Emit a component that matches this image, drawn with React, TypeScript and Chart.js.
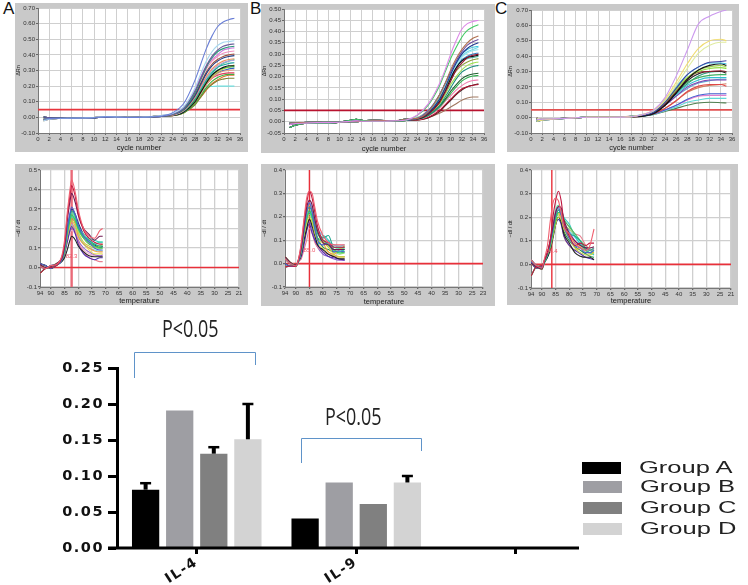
import React, { useEffect, useRef } from "react";
import { Chart, registerables } from "chart.js";

Chart.register(...registerables);

// ---------- bar chart data ----------
const categories = ["IL-4", "IL-9", ""];
const groupNames = ["Group A", "Group B", "Group C", "Group D"];
const groupColors = ["#000000", "#9e9ea3", "#808080", "#d3d3d3"];
const groupA = [0.081, 0.041, null];
const groupB = [0.191, 0.091, null];
const groupC = [0.131, 0.061, null];
const groupD = [0.151, 0.091, null];
const topA = [0.09, null, null];
const topB = [null, null, null];
const topC = [0.14, null, null];
const topD = [0.2, 0.1, null];
const barTicks = [0, 0.05, 0.1, 0.15, 0.2, 0.25];

// ---------- shared colours for curves ----------
const palette = [
  "#6a7fd6", "#a8d8f0", "#6a5a9a", "#2a9a7a", "#f090c0", "#203a80", "#f09060", "#b0a0e0",
  "#20a0a0", "#111111", "#30c050", "#e0a080", "#e04060", "#40b040", "#808030", "#70e0e0",
  "#cc77dd", "#a05040", "#40d890", "#d8c840", "#3060c0", "#e07030",
];
const meltColors = [
  "#f06070", "#c01840", "#701850", "#5060d0", "#20a890", "#40c860", "#c8d040", "#222222",
  "#5030b0", "#e88090", "#30d0c0", "#f0a040", "#90e070", "#70d0f0", "#e8e060", "#209050",
  "#9060d0", "#60e0a0", "#f0b0d0", "#103070", "#40b0e0", "#80c030",
];

// ---------- amplification curves, panel A ----------
const cyclesA = [1, 2, 4, 6, 8, 10, 12, 14, 16, 18, 20, 22, 24, 26, 28, 29, 30, 31, 32, 33, 34, 35];
const earlyA1 = [-0.012, -0.008, -0.006, -0.005, -0.004, -0.002, 0.003, 0.002, 0, 0, 0.003, 0.008];
const earlyA2 = [-0.022, -0.012, -0.007, -0.006, -0.004, -0.001, 0.006, 0.003, 0.001, 0.001, 0.004, 0.012];
const earlyA3 = [0.002, -0.002, -0.005, -0.006, -0.005, -0.003, 0.001, 0.001, -0.001, 0, 0.002, 0.006];
const lateA = [
  [0.03, 0.09, 0.24, 0.34, 0.44, 0.52, 0.58, 0.61, 0.625, 0.635],
  [0.025, 0.07, 0.19, 0.28, 0.36, 0.42, 0.46, 0.48, 0.485, 0.49],
  [0.02, 0.06, 0.17, 0.25, 0.33, 0.39, 0.43, 0.455, 0.465, 0.47],
  [0.02, 0.055, 0.16, 0.24, 0.32, 0.38, 0.42, 0.44, 0.45, 0.455],
  [0.02, 0.06, 0.17, 0.24, 0.31, 0.36, 0.39, 0.41, 0.42, 0.425],
  [0.018, 0.05, 0.14, 0.21, 0.28, 0.33, 0.36, 0.38, 0.39, 0.395],
  [0.015, 0.045, 0.13, 0.2, 0.26, 0.31, 0.34, 0.36, 0.37, 0.375],
  [0.015, 0.045, 0.13, 0.19, 0.25, 0.3, 0.33, 0.35, 0.36, 0.365],
  [0.015, 0.04, 0.12, 0.18, 0.24, 0.28, 0.32, 0.335, 0.345, 0.35],
  [0.012, 0.035, 0.1, 0.16, 0.22, 0.27, 0.3, 0.32, 0.33, 0.33],
  [0.015, 0.04, 0.11, 0.17, 0.23, 0.27, 0.3, 0.315, 0.322, 0.325],
  [0.012, 0.035, 0.1, 0.15, 0.21, 0.25, 0.28, 0.295, 0.3, 0.305],
  [0.015, 0.04, 0.11, 0.16, 0.21, 0.25, 0.27, 0.28, 0.285, 0.285],
  [0.012, 0.03, 0.09, 0.14, 0.19, 0.23, 0.255, 0.27, 0.275, 0.275],
  [0.01, 0.03, 0.08, 0.13, 0.18, 0.21, 0.235, 0.245, 0.25, 0.25],
  [0.012, 0.035, 0.1, 0.15, 0.19, 0.198, 0.2, 0.2, 0.2, 0.2],
  [0.022, 0.065, 0.18, 0.26, 0.33, 0.37, 0.4, 0.43, 0.44, 0.445],
  [0.016, 0.05, 0.15, 0.22, 0.29, 0.34, 0.37, 0.39, 0.4, 0.405],
  [0.014, 0.045, 0.13, 0.19, 0.25, 0.29, 0.32, 0.345, 0.36, 0.37],
  [0.012, 0.04, 0.12, 0.17, 0.22, 0.26, 0.29, 0.31, 0.32, 0.335],
  [0.012, 0.035, 0.11, 0.16, 0.22, 0.26, 0.285, 0.3, 0.31, 0.315],
  [0.01, 0.03, 0.09, 0.13, 0.175, 0.215, 0.24, 0.26, 0.27, 0.27],
];

// ---------- amplification curves, panel B ----------
const cyclesB = [1, 2, 4, 6, 8, 10, 12, 13, 14, 16, 18, 20, 22, 24, 26, 28, 29, 30, 31, 32, 33, 34, 35];
const earlyB1 = [-0.012, -0.008, -0.006, -0.004, -0.004, -0.002, 0.002, 0.004, 0.002, 0.002, 0.002, 0.004, 0.008];
const earlyB2 = [-0.026, -0.016, -0.007, -0.006, -0.006, -0.002, 0.006, 0.011, 0.006, 0.001, 0.001, 0.003, 0.006];
const earlyB3 = [-0.006, -0.005, -0.002, -0.001, -0.003, -0.002, 0, 0, 0.003, 0.007, 0.005, 0.003, 0.012];
const lateB = [
  [0.03, 0.08, 0.17, 0.23, 0.3, 0.36, 0.41, 0.435, 0.445, 0.45],
  [0.028, 0.075, 0.16, 0.22, 0.28, 0.33, 0.375, 0.405, 0.42, 0.43],
  [0.015, 0.045, 0.12, 0.17, 0.23, 0.28, 0.32, 0.35, 0.37, 0.38],
  [0.015, 0.05, 0.12, 0.17, 0.22, 0.27, 0.31, 0.34, 0.355, 0.365],
  [0.014, 0.04, 0.1, 0.15, 0.21, 0.26, 0.3, 0.325, 0.34, 0.35],
  [0.016, 0.05, 0.12, 0.17, 0.22, 0.265, 0.3, 0.32, 0.33, 0.335],
  [0.016, 0.05, 0.115, 0.16, 0.21, 0.25, 0.285, 0.305, 0.315, 0.32],
  [0.012, 0.035, 0.085, 0.13, 0.18, 0.23, 0.26, 0.285, 0.295, 0.3],
  [0.013, 0.035, 0.09, 0.135, 0.19, 0.24, 0.27, 0.285, 0.29, 0.295],
  [0.018, 0.05, 0.11, 0.15, 0.19, 0.225, 0.25, 0.265, 0.275, 0.28],
  [0.014, 0.035, 0.08, 0.12, 0.165, 0.2, 0.23, 0.25, 0.26, 0.265],
  [0.012, 0.03, 0.07, 0.11, 0.15, 0.19, 0.22, 0.235, 0.245, 0.25],
  [0.012, 0.03, 0.07, 0.1, 0.135, 0.165, 0.19, 0.205, 0.212, 0.215],
  [0.012, 0.028, 0.065, 0.095, 0.125, 0.155, 0.18, 0.195, 0.203, 0.205],
  [0.01, 0.025, 0.06, 0.09, 0.115, 0.14, 0.16, 0.175, 0.183, 0.185],
  [0.008, 0.02, 0.05, 0.075, 0.1, 0.125, 0.145, 0.155, 0.162, 0.165],
  [0.008, 0.018, 0.045, 0.07, 0.095, 0.12, 0.14, 0.155, 0.162, 0.168],
  [0.008, 0.018, 0.038, 0.05, 0.065, 0.08, 0.095, 0.105, 0.11, 0.11],
  [0.015, 0.045, 0.11, 0.16, 0.21, 0.255, 0.29, 0.31, 0.32, 0.33],
  [0.014, 0.04, 0.1, 0.15, 0.2, 0.24, 0.275, 0.29, 0.3, 0.305],
  [0.013, 0.04, 0.1, 0.15, 0.2, 0.24, 0.27, 0.28, 0.285, 0.29],
];
const colorsB = [
  "#dd88e8", "#44cc66", "#b07050", "#7050a0", "#203a90", "#40c8e0", "#a0e8f0", "#901030", "#111111",
  "#90a040", "#a0e050", "#209080", "#206030", "#30b050", "#f080b0", "#b01030", "#402020", "#a07860",
  "#70d8e8", "#3080c0", "#50b8a0",
];

// ---------- amplification curves, panel C ----------
const cyclesC = [1, 2, 4, 6, 8, 10, 12, 14, 16, 18, 20, 22, 24, 26, 28, 30, 32, 34, 35];
const earlyC1 = [-0.012, -0.01, -0.008, -0.005, -0.001, 0.002, 0.002, 0.002, 0.003, 0.006];
const earlyC2 = [-0.024, -0.016, -0.01, -0.006, -0.001, 0.003, 0.003, 0.003, 0.004, 0.008];
const earlyC3 = [-0.004, -0.008, -0.007, -0.004, 0, 0.001, 0.002, 0.002, 0.002, 0.005];
const lateC = [
  [0.02, 0.05, 0.13, 0.27, 0.44, 0.61, 0.66, 0.69, 0.7],
  [0.02, 0.05, 0.12, 0.23, 0.35, 0.45, 0.5, 0.51, 0.5],
  [0.02, 0.045, 0.11, 0.21, 0.32, 0.42, 0.47, 0.49, 0.49],
  [0.015, 0.035, 0.1, 0.19, 0.28, 0.33, 0.36, 0.365, 0.37],
  [0.02, 0.04, 0.11, 0.2, 0.28, 0.33, 0.355, 0.355, 0.35],
  [0.01, 0.03, 0.08, 0.16, 0.25, 0.31, 0.34, 0.35, 0.34],
  [0.015, 0.04, 0.1, 0.18, 0.26, 0.3, 0.32, 0.325, 0.32],
  [0.015, 0.035, 0.09, 0.17, 0.25, 0.295, 0.3, 0.305, 0.3],
  [0.01, 0.025, 0.08, 0.16, 0.24, 0.285, 0.3, 0.3, 0.29],
  [0.015, 0.04, 0.1, 0.17, 0.23, 0.26, 0.275, 0.28, 0.28],
  [0.01, 0.03, 0.09, 0.15, 0.21, 0.245, 0.26, 0.26, 0.26],
  [0.015, 0.03, 0.08, 0.14, 0.2, 0.23, 0.245, 0.245, 0.245],
  [0.01, 0.025, 0.06, 0.11, 0.17, 0.205, 0.215, 0.215, 0.205],
  [0.01, 0.025, 0.05, 0.08, 0.12, 0.145, 0.155, 0.155, 0.155],
  [0.01, 0.025, 0.05, 0.08, 0.115, 0.14, 0.145, 0.145, 0.145],
  [0.01, 0.02, 0.045, 0.07, 0.1, 0.115, 0.125, 0.125, 0.125],
  [0.01, 0.02, 0.04, 0.06, 0.08, 0.095, 0.1, 0.097, 0.095],
  [0.015, 0.04, 0.11, 0.19, 0.26, 0.31, 0.33, 0.34, 0.33],
  [0.012, 0.03, 0.09, 0.16, 0.22, 0.27, 0.295, 0.3, 0.3],
  [0.012, 0.035, 0.08, 0.14, 0.19, 0.225, 0.24, 0.25, 0.25],
  [0.01, 0.025, 0.06, 0.11, 0.165, 0.195, 0.21, 0.215, 0.22],
];
const colorsC = [
  "#cc99ee", "#f0dc70", "#e0eca0", "#4040a0", "#40c0e0", "#111111", "#90e040", "#902030", "#222222",
  "#40b060", "#30c0d0", "#8040b0", "#e04848", "#4060d0", "#e080d0", "#60d8d8", "#508050",
  "#a0d050", "#30a080", "#60a0d0", "#d08060",
];

// ---------- melt curves ----------
const tempsA = [94, 92, 90, 88, 86, 85, 84, 83, 82.4, 81, 80, 78, 76, 74, 72, 71];
const hotA1 = [0.005, -0.005, 0.01, 0.015];
const hotA2 = [-0.03, -0.005, 0, 0.01];
const hotA3 = [0.015, 0, 0.005, 0.02];
const hotA4 = [0.02, 0.01, -0.005, 0.012];
const meltA = [
  [0.06, 0.14, 0.28, 0.4, 0.45, 0.38, 0.3, 0.2, 0.16, 0.15, 0.19, 0.2],
  [0.05, 0.12, 0.26, 0.37, 0.42, 0.36, 0.28, 0.19, 0.15, 0.13, 0.12, 0.12],
  [0.05, 0.11, 0.24, 0.34, 0.38, 0.33, 0.27, 0.2, 0.17, 0.14, 0.16, 0.16],
  [0.04, 0.1, 0.2, 0.28, 0.31, 0.27, 0.22, 0.16, 0.13, 0.1, 0.09, 0.09],
  [0.04, 0.09, 0.18, 0.26, 0.29, 0.26, 0.21, 0.16, 0.14, 0.12, 0.11, 0.11],
  [0.04, 0.08, 0.17, 0.24, 0.27, 0.24, 0.2, 0.15, 0.13, 0.11, 0.1, 0.1],
  [0.04, 0.08, 0.16, 0.22, 0.24, 0.21, 0.18, 0.13, 0.11, 0.1, 0.11, 0.12],
  [0.03, 0.05, 0.09, 0.14, 0.16, 0.14, 0.11, 0.08, 0.06, 0.055, 0.055, 0.055],
  [0.035, 0.07, 0.13, 0.19, 0.21, 0.17, 0.12, 0.07, 0.05, 0.04, 0.05, 0.05],
  [0.04, 0.08, 0.15, 0.21, 0.23, 0.18, 0.13, 0.08, 0.05, 0.04, 0.03, 0.03],
  [0.04, 0.09, 0.18, 0.25, 0.26, 0.24, 0.2, 0.16, 0.15, 0.14, 0.13, 0.13],
  [0.04, 0.08, 0.16, 0.22, 0.25, 0.22, 0.16, 0.12, 0.1, 0.085, 0.08, 0.08],
  [0.04, 0.09, 0.17, 0.23, 0.26, 0.23, 0.19, 0.15, 0.125, 0.105, 0.095, 0.1],
  [0.035, 0.08, 0.15, 0.2, 0.22, 0.2, 0.17, 0.12, 0.1, 0.09, 0.085, 0.085],
  [0.035, 0.07, 0.14, 0.19, 0.21, 0.19, 0.16, 0.12, 0.09, 0.07, 0.07, 0.07],
  [0.04, 0.08, 0.16, 0.22, 0.25, 0.23, 0.2, 0.15, 0.12, 0.11, 0.1, 0.11],
  [0.035, 0.075, 0.14, 0.19, 0.2, 0.18, 0.14, 0.1, 0.08, 0.065, 0.06, 0.065],
  [0.04, 0.085, 0.17, 0.24, 0.28, 0.25, 0.21, 0.17, 0.14, 0.12, 0.13, 0.13],
  [0.035, 0.07, 0.13, 0.18, 0.19, 0.17, 0.13, 0.09, 0.07, 0.06, 0.06, 0.06],
  [0.04, 0.09, 0.19, 0.27, 0.3, 0.27, 0.23, 0.17, 0.14, 0.115, 0.105, 0.105],
];
const tempsB = [94, 92, 90, 89, 88, 87, 86, 85, 84, 83, 82, 80, 78, 76, 74, 72];
const hotB1 = [0.02, 0, -0.01];
const hotB2 = [-0.015, -0.01, -0.012];
const hotB3 = [0.03, 0.005, -0.005];
const hotB4 = [0, -0.012, -0.008];
const meltB = [
  [0.02, 0.09, 0.19, 0.28, 0.31, 0.3, 0.24, 0.18, 0.12, 0.09, 0.08, 0.08, 0.08],
  [0.02, 0.08, 0.18, 0.26, 0.31, 0.28, 0.22, 0.16, 0.1, 0.09, 0.07, 0.07, 0.07],
  [0.015, 0.07, 0.16, 0.24, 0.27, 0.25, 0.19, 0.14, 0.09, 0.08, 0.06, 0.06, 0.06],
  [0.01, 0.06, 0.14, 0.22, 0.26, 0.22, 0.15, 0.1, 0.08, 0.09, 0.05, 0.055, 0.05],
  [0.015, 0.07, 0.15, 0.22, 0.24, 0.22, 0.17, 0.13, 0.11, 0.12, 0.07, 0.07, 0.07],
  [0.01, 0.05, 0.13, 0.19, 0.23, 0.2, 0.15, 0.11, 0.1, 0.08, 0.06, 0.045, 0.05],
  [0.01, 0.05, 0.12, 0.18, 0.2, 0.18, 0.13, 0.1, 0.09, 0.07, 0.04, 0.03, 0.03],
  [0.01, 0.04, 0.1, 0.15, 0.19, 0.16, 0.12, 0.08, 0.06, 0.04, 0.03, 0.02, 0.02],
  [0.01, 0.03, 0.08, 0.14, 0.17, 0.13, 0.1, 0.08, 0.05, 0.03, 0.025, 0.02, 0.015],
  [0.01, 0.02, 0.06, 0.1, 0.15, 0.13, 0.09, 0.07, 0.05, 0.04, 0.03, 0.03, 0.03],
  [0.015, 0.06, 0.14, 0.2, 0.22, 0.19, 0.13, 0.08, 0.12, 0.1, 0.06, 0.05, 0.06],
  [0.01, 0.05, 0.13, 0.21, 0.25, 0.23, 0.18, 0.14, 0.09, 0.05, 0.04, 0.06, 0.075],
  [0.012, 0.06, 0.14, 0.2, 0.21, 0.2, 0.16, 0.13, 0.1, 0.07, 0.055, 0.04, 0.045],
  [0.015, 0.07, 0.15, 0.23, 0.26, 0.24, 0.2, 0.15, 0.12, 0.095, 0.08, 0.075, 0.08],
  [0.01, 0.05, 0.12, 0.17, 0.19, 0.17, 0.12, 0.09, 0.065, 0.05, 0.035, 0.025, 0.025],
  [0.012, 0.06, 0.13, 0.19, 0.22, 0.2, 0.15, 0.11, 0.07, 0.06, 0.05, 0.05, 0.06],
  [0.01, 0.045, 0.11, 0.16, 0.18, 0.15, 0.1, 0.07, 0.04, 0.03, 0.02, 0.015, 0.015],
  [0.015, 0.065, 0.15, 0.22, 0.25, 0.22, 0.17, 0.13, 0.1, 0.085, 0.07, 0.065, 0.065],
];
const tempsC = [94, 92, 90, 89, 88, 87, 86, 85, 84, 83, 82, 80, 78, 76, 74, 72.5, 71];
const hotC1 = [0.02, -0.005, -0.015];
const hotC2 = [-0.05, -0.01, -0.005];
const hotC3 = [0.005, -0.01, -0.02];
const hotC4 = [0.01, -0.015, -0.01];
const meltC = [
  [0.03, 0.08, 0.18, 0.26, 0.28, 0.27, 0.22, 0.16, 0.13, 0.09, 0.07, 0.06, 0.08, 0.15, 0.145],
  [0.02, 0.05, 0.1, 0.2, 0.27, 0.31, 0.27, 0.18, 0.12, 0.08, 0.09, 0.08, 0.09, 0.09, 0.09],
  [0.02, 0.05, 0.1, 0.16, 0.22, 0.245, 0.24, 0.19, 0.13, 0.1, 0.08, 0.07, 0.07, 0.075, 0.08],
  [0.02, 0.05, 0.09, 0.15, 0.22, 0.24, 0.21, 0.16, 0.11, 0.08, 0.07, 0.05, 0.05, 0.06, 0.06],
  [0.015, 0.04, 0.08, 0.15, 0.2, 0.23, 0.21, 0.17, 0.13, 0.12, 0.1, 0.07, 0.06, 0.07, 0.07],
  [0.01, 0.04, 0.08, 0.13, 0.19, 0.22, 0.22, 0.19, 0.16, 0.13, 0.1, 0.06, 0.05, 0.06, 0.05],
  [0.015, 0.04, 0.07, 0.12, 0.17, 0.2, 0.19, 0.15, 0.11, 0.07, 0.05, 0.04, 0.04, 0.05, 0.05],
  [0.01, 0.03, 0.06, 0.11, 0.17, 0.2, 0.18, 0.13, 0.09, 0.05, 0.035, 0.03, 0.03, 0.02, 0.025],
  [0.01, 0.03, 0.07, 0.12, 0.17, 0.19, 0.17, 0.12, 0.08, 0.06, 0.045, 0.03, 0.025, 0.02, 0.02],
  [0.015, 0.05, 0.09, 0.15, 0.21, 0.23, 0.22, 0.19, 0.16, 0.13, 0.12, 0.08, 0.06, 0.07, 0.07],
  [0.01, 0.04, 0.08, 0.14, 0.2, 0.235, 0.23, 0.2, 0.17, 0.12, 0.085, 0.06, 0.05, 0.04, 0.04],
  [0.02, 0.05, 0.1, 0.16, 0.21, 0.22, 0.18, 0.12, 0.08, 0.06, 0.07, 0.06, 0.05, 0.05, 0.06],
  [0.015, 0.04, 0.08, 0.14, 0.19, 0.21, 0.2, 0.17, 0.15, 0.12, 0.1, 0.08, 0.065, 0.06, 0.06],
  [0.012, 0.035, 0.07, 0.12, 0.17, 0.19, 0.18, 0.16, 0.14, 0.115, 0.09, 0.06, 0.05, 0.045, 0.045],
  [0.015, 0.04, 0.08, 0.14, 0.2, 0.215, 0.2, 0.16, 0.12, 0.09, 0.075, 0.055, 0.045, 0.05, 0.055],
  [0.012, 0.035, 0.075, 0.13, 0.18, 0.2, 0.18, 0.14, 0.1, 0.075, 0.06, 0.045, 0.035, 0.03, 0.03],
  [0.015, 0.045, 0.09, 0.15, 0.2, 0.22, 0.21, 0.18, 0.14, 0.1, 0.085, 0.065, 0.06, 0.065, 0.07],
  [0.02, 0.05, 0.1, 0.17, 0.23, 0.25, 0.23, 0.17, 0.12, 0.09, 0.08, 0.07, 0.06, 0.055, 0.055],
];

// ---------- axis ticks ----------
const ampTicksWide = [-0.1, 0, 0.1, 0.2, 0.3, 0.4, 0.5, 0.6, 0.7];
const ampTicksB = [-0.05, 0, 0.05, 0.1, 0.15, 0.2, 0.25, 0.3, 0.35, 0.4, 0.45, 0.5];
const cycleTicks = [0, 2, 4, 6, 8, 10, 12, 14, 16, 18, 20, 22, 24, 26, 28, 30, 32, 34, 36];
const meltYTicksA = [-0.1, 0, 0.1, 0.2, 0.3, 0.4, 0.5];
const meltYTicksBC = [-0.1, 0, 0.1, 0.2, 0.3, 0.4];
const tempTicks = [94, 90, 85, 80, 75, 70, 65, 60, 55, 50, 45, 40, 35, 30, 25, 21];
const tempLabelsAC = ["94", "90", "85", "80", "75", "70", "65", "60", "55", "50", "45", "40", "35", "30", "25", "21"];
const tempLabelsB = ["94", "90", "85", "80", "75", "70", "65", "60", "55", "50", "45", "40", "35", "30", "25", "23"];

const PANEL_GREY = "#c9c9c9";
const SMALL_FONT = "'Liberation Sans', Arial, sans-serif";

type Box = { l: number; t: number; r: number; b: number };

const zip = (xs: number[], ys: number[]) => xs.map((x, i) => ({ x, y: ys[i] }));

function curveSets(xs: number[], rows: number[][], colors: string[], starts: number[][]) {
  return rows.map((row, i) => ({
    data: zip(xs, [...starts[i % starts.length], ...row]),
    borderColor: colors[i % colors.length],
    borderWidth: 1.1,
    pointRadius: 0,
    cubicInterpolationMode: "monotone" as const,
    fill: false,
  }));
}

const plotBackground = {
  id: "plotBackground",
  beforeDraw(chart: any) {
    const { ctx, chartArea: a } = chart;
    ctx.save();
    ctx.fillStyle = "#ffffff";
    ctx.fillRect(a.left, a.top, a.right - a.left, a.bottom - a.top);
    ctx.restore();
  },
};

function SmallPanel(props: {
  box: Box;
  plot: Box;
  xMin: number;
  xMax: number;
  xReverse?: boolean;
  xTicks: number[];
  xLabels?: string[];
  xTitle: string;
  yMin: number;
  yMax: number;
  yTicks: number[];
  yTitle: string;
  yDecimals: number;
  sets: any[];
  marks: any[];
  cursor?: { x: number; label: string };
  gridWidth: number;
}) {
  const ref = useRef<HTMLCanvasElement>(null);
  useEffect(() => {
    const { box, plot, cursor } = props;
    const cursorPlugin = {
      id: "cursorText",
      afterDatasetsDraw(chart: any) {
        if (!cursor) return;
        const { ctx, scales } = chart;
        ctx.save();
        ctx.font = `6px ${SMALL_FONT}`;
        ctx.fillStyle = "#ee5566";
        ctx.textAlign = "center";
        ctx.fillText(cursor.label, scales.x.getPixelForValue(cursor.x), scales.y.getPixelForValue(0.05));
        ctx.restore();
      },
    };
    const chart = new Chart(ref.current!, {
      type: "line",
      data: { datasets: [...props.sets, ...props.marks] },
      plugins: [plotBackground, cursorPlugin],
      options: {
        animation: false,
        responsive: false,
        normalized: true,
        layout: {
          padding: { top: plot.t - box.t, right: box.r - plot.r, left: 0, bottom: 0 },
        },
        plugins: { legend: { display: false }, tooltip: { enabled: false } },
        scales: {
          x: {
            type: "linear",
            min: props.xMin,
            max: props.xMax,
            reverse: props.xReverse,
            afterFit: (s: any) => { s.height = box.b - plot.b; },
            afterBuildTicks: (s: any) => { s.ticks = props.xTicks.map((value) => ({ value })); },
            grid: { color: "#cfcfcf", lineWidth: props.gridWidth, tickColor: "#666666", tickLength: 2 },
            border: { color: "#777777", width: 1 },
            ticks: {
              font: { size: 6, family: SMALL_FONT },
              color: "#333333",
              padding: 1,
              maxRotation: 0,
              autoSkip: false,
              callback: (v: any, i: number) => (props.xLabels ? props.xLabels[i] : String(v)),
            },
            title: {
              display: true,
              text: props.xTitle,
              color: "#222222",
              font: { size: 7.5, family: SMALL_FONT },
              padding: { top: 0, bottom: 0 },
            },
          },
          y: {
            type: "linear",
            min: props.yMin,
            max: props.yMax,
            afterFit: (s: any) => { s.width = plot.l - box.l; },
            afterBuildTicks: (s: any) => { s.ticks = props.yTicks.map((value) => ({ value })); },
            grid: { color: "#cfcfcf", lineWidth: props.gridWidth, tickColor: "#666666", tickLength: 2 },
            border: { color: "#777777", width: 1 },
            ticks: {
              font: { size: 6, family: SMALL_FONT },
              color: "#333333",
              padding: 1,
              autoSkip: false,
              callback: (v: any) => Number(v).toFixed(props.yDecimals),
            },
            title: {
              display: true,
              text: props.yTitle,
              color: "#222222",
              font: { size: 5.5, family: SMALL_FONT },
              padding: { top: 0, bottom: 1 },
            },
          },
        },
      } as any,
    });
    return () => chart.destroy();
  }, []);
  const { box } = props;
  return (
    <canvas
      ref={ref}
      width={box.r - box.l}
      height={box.b - box.t}
      style={{
        position: "absolute",
        left: box.l,
        top: box.t,
        background: PANEL_GREY,
        filter: "blur(0.5px)",
      }}
    />
  );
}

const flatLine = (x0: number, x1: number, y: number, color: string, width: number) => ({
  data: [{ x: x0, y }, { x: x1, y }],
  borderColor: color,
  borderWidth: width,
  pointRadius: 0,
});

const uprightLine = (x: number, y0: number, y1: number, color: string, width: number) => ({
  data: [{ x, y: y0 }, { x, y: y1 }],
  borderColor: color,
  borderWidth: width,
  pointRadius: 0,
});

const crossDot = (x: number) => ({
  data: [{ x, y: 0 }],
  showLine: false,
  pointRadius: 1.5,
  pointBackgroundColor: "#ffffff",
  pointBorderWidth: 0,
});

function BarPanel() {
  const ref = useRef<HTMLCanvasElement>(null);
  useEffect(() => {
    const tops = [topA, topB, topC, topD];
    const stretch = {
      id: "stretch",
      beforeDraw(chart: any) {
        chart.ctx.letterSpacing = "1.5px";
      },
    };
    const axisLine = {
      id: "axisLine",
      afterDraw(chart: any) {
        const { ctx, chartArea: a } = chart;
        ctx.save();
        ctx.strokeStyle = "#000";
        ctx.lineWidth = 3;
        ctx.beginPath();
        ctx.moveTo(a.left - 9, a.bottom);
        ctx.lineTo(579, a.bottom);
        ctx.stroke();
        ctx.restore();
      },
    };
    const errorBars = {
      id: "errorBars",
      afterDatasetsDraw(chart: any) {
        const { ctx, scales } = chart;
        ctx.save();
        ctx.strokeStyle = "#000";
        tops.forEach((row, d) => {
          row.forEach((top, i) => {
            if (top == null) return;
            const bar = chart.getDatasetMeta(d).data[i];
            const py = scales.y.getPixelForValue(top);
            ctx.lineWidth = 4;
            ctx.beginPath();
            ctx.moveTo(bar.x, bar.y);
            ctx.lineTo(bar.x, py);
            ctx.stroke();
            ctx.lineWidth = 2.5;
            ctx.beginPath();
            ctx.moveTo(bar.x - 5.5, py);
            ctx.lineTo(bar.x + 5.5, py);
            ctx.stroke();
          });
        });
        ctx.restore();
      },
    };
    const chart = new Chart(ref.current!, {
      type: "bar",
      data: {
        labels: categories,
        datasets: [groupA, groupB, groupC, groupD].map((data, i) => ({
          label: groupNames[i],
          data,
          backgroundColor: groupColors[i],
          borderWidth: 0,
          categoryPercentage: 0.855,
          barPercentage: 0.8,
        })),
      },
      plugins: [stretch, errorBars, axisLine],
      options: {
        animation: false,
        responsive: false,
        layout: { padding: { top: 53, right: 152.5, left: 0, bottom: 0 } },
        plugins: { legend: { display: false }, tooltip: { enabled: false } },
        scales: {
          x: {
            afterFit: (s: any) => { s.height = 37; },
            border: { display: false },
            grid: {
              drawOnChartArea: false,
              offset: false,
              tickLength: 6,
              tickWidth: 3,
              tickColor: "#000",
            },
            ticks: {
              minRotation: 33,
              maxRotation: 33,
              autoSkip: false,
              padding: 0,
              color: "#111",
              font: { family: "'DejaVu Sans'", size: 14, weight: "bold" },
            },
          },
          y: {
            min: 0,
            max: 0.25,
            afterFit: (s: any) => { s.width = 117; },
            afterBuildTicks: (s: any) => { s.ticks = barTicks.map((value) => ({ value })); },
            border: { color: "#000", width: 3 },
            grid: {
              drawOnChartArea: false,
              tickLength: 9,
              tickWidth: 3,
              tickColor: "#000",
            },
            ticks: {
              padding: 4,
              color: "#111",
              font: { family: "'DejaVu Sans'", size: 14.5, weight: "bold" },
              callback: (v: any) => Number(v).toFixed(2),
            },
          },
        },
      } as any,
    });
    return () => chart.destroy();
  }, []);
  return (
    <canvas
      ref={ref}
      width={748}
      height={270}
      style={{ position: "absolute", left: 0, top: 315, filter: "blur(0.4px)" }}
    />
  );
}

const panelLetter = (text: string, left: number) => (
  <div
    key={text}
    style={{
      position: "absolute",
      left,
      top: 0,
      font: "17px 'Liberation Sans', Arial, sans-serif",
      lineHeight: "18px",
      color: "#111",
    }}
  >
    {text}
  </div>
);

const pValue = (left: number, top: number) => (
  <div
    key={left}
    style={{
      position: "absolute",
      left,
      top,
      font: "23px 'Open Sans', sans-serif",
      lineHeight: "26px",
      color: "#222",
      transform: "scaleX(0.78)",
      transformOrigin: "left center",
      whiteSpace: "nowrap",
    }}
  >
    P&lt;0.05
  </div>
);

const legendRows = [
  { top: 462, swatchLeft: 582, textLeft: 639 },
  { top: 481, swatchLeft: 583, textLeft: 640 },
  { top: 502, swatchLeft: 583, textLeft: 640 },
  { top: 523, swatchLeft: 583, textLeft: 640 },
];

export default function App() {
  const thresholdA = flatLine(0, 36, 0.05, "#e8343c", 1.8);
  const thresholdB = flatLine(0, 36, 0.05, "#b8122e", 1.8);
  const thresholdC = flatLine(0, 36, 0.05, "#e25050", 1.8);
  return (
    <div style={{ position: "absolute", left: 0, top: 0, width: 748, height: 585, background: "#fff", overflow: "hidden" }}>
      {panelLetter("A", 3)}
      {panelLetter("B", 250)}
      {panelLetter("C", 495)}
      <SmallPanel
        box={{ l: 15, t: 3, r: 248, b: 152 }}
        plot={{ l: 38, t: 8, r: 240, b: 133 }}
        xMin={0} xMax={36} xTicks={cycleTicks} xTitle="cycle number"
        yMin={-0.1} yMax={0.7} yTicks={ampTicksWide} yTitle="ΔRn" yDecimals={2}
        sets={curveSets(cyclesA, lateA, palette, [earlyA1, earlyA2, earlyA3])}
        marks={[thresholdA]} gridWidth={1}
      />
      <SmallPanel
        box={{ l: 261, t: 4, r: 495, b: 153 }}
        plot={{ l: 284, t: 9, r: 484, b: 133 }}
        xMin={0} xMax={36} xTicks={cycleTicks} xTitle="cycle number"
        yMin={-0.05} yMax={0.5} yTicks={ampTicksB} yTitle="ΔRn" yDecimals={2}
        sets={curveSets(cyclesB, lateB, colorsB, [earlyB1, earlyB2, earlyB3])}
        marks={[thresholdB]} gridWidth={1}
      />
      <SmallPanel
        box={{ l: 507, t: 4, r: 739, b: 152 }}
        plot={{ l: 531, t: 10, r: 732, b: 133 }}
        xMin={0} xMax={36} xTicks={cycleTicks} xTitle="cycle number"
        yMin={-0.1} yMax={0.7} yTicks={ampTicksWide} yTitle="ΔRn" yDecimals={2}
        sets={curveSets(cyclesC, lateC, colorsC, [earlyC1, earlyC2, earlyC3])}
        marks={[thresholdC]} gridWidth={1}
      />
      <SmallPanel
        box={{ l: 15, t: 164, r: 248, b: 305 }}
        plot={{ l: 40, t: 170, r: 239, b: 287 }}
        xMin={21} xMax={94} xReverse xTicks={tempTicks} xLabels={tempLabelsAC} xTitle="temperature"
        yMin={-0.1} yMax={0.5} yTicks={meltYTicksA} yTitle="−dI / dt" yDecimals={1}
        sets={curveSets(tempsA, meltA, meltColors, [hotA1, hotA2, hotA3, hotA4])}
        marks={[
          flatLine(21, 94, 0, "#e8303a", 1.6),
          uprightLine(82.4, -0.1, 0.5, "#ea6a78", 2.4),
          crossDot(82.4),
        ]}
        cursor={{ x: 82.4, label: "82.3" }} gridWidth={1.3}
      />
      <SmallPanel
        box={{ l: 261, t: 164, r: 495, b: 306 }}
        plot={{ l: 285, t: 170, r: 483, b: 287 }}
        xMin={21} xMax={94} xReverse xTicks={tempTicks} xLabels={tempLabelsB} xTitle="temperature"
        yMin={-0.1} yMax={0.4} yTicks={meltYTicksBC} yTitle="−dI / dt" yDecimals={1}
        sets={curveSets(tempsB, meltB, meltColors, [hotB1, hotB2, hotB3, hotB4])}
        marks={[
          flatLine(21, 94, 0, "#e8303a", 1.6),
          uprightLine(85, -0.1, 0.4, "#e8303a", 1.4),
          crossDot(85),
        ]}
        cursor={{ x: 85, label: "85.0" }} gridWidth={1.3}
      />
      <SmallPanel
        box={{ l: 507, t: 164, r: 738, b: 305 }}
        plot={{ l: 531, t: 170, r: 731, b: 288 }}
        xMin={21} xMax={94} xReverse xTicks={tempTicks} xLabels={tempLabelsAC} xTitle="temperature"
        yMin={-0.1} yMax={0.4} yTicks={meltYTicksBC} yTitle="−dI / dt" yDecimals={1}
        sets={curveSets(tempsC, meltC, meltColors, [hotC1, hotC2, hotC3, hotC4])}
        marks={[
          flatLine(21, 94, 0, "#e8303a", 1.6),
          uprightLine(86.4, -0.1, 0.4, "#e8303a", 1.4),
          crossDot(86.4),
        ]}
        cursor={{ x: 86.4, label: "86.4" }} gridWidth={1.3}
      />
      <BarPanel />
      {pValue(162, 315)}
      {pValue(325, 403)}
      <svg width={748} height={585} style={{ position: "absolute", left: 0, top: 0, pointerEvents: "none" }}>
        <polyline points="134.5,378 134.5,352.5 255.5,352.5 255.5,365" fill="none" stroke="#5f93c9" strokeWidth={1} />
        <polyline points="301.5,463 301.5,438.5 421.5,438.5 421.5,451" fill="none" stroke="#5f93c9" strokeWidth={1} />
      </svg>
      {groupNames.map((name, i) => (
        <React.Fragment key={name}>
          <div
            style={{
              position: "absolute",
              left: legendRows[i].swatchLeft,
              top: legendRows[i].top,
              width: 39,
              height: 12,
              background: groupColors[i],
            }}
          />
          <div
            style={{
              position: "absolute",
              left: legendRows[i].textLeft,
              top: legendRows[i].top - 4,
              font: "17px 'Liberation Sans', Arial, sans-serif",
              lineHeight: "20px",
              color: "#222",
              transform: "scaleX(1.5)",
              transformOrigin: "left center",
              whiteSpace: "nowrap",
            }}
          >
            {name}
          </div>
        </React.Fragment>
      ))}
    </div>
  );
}
